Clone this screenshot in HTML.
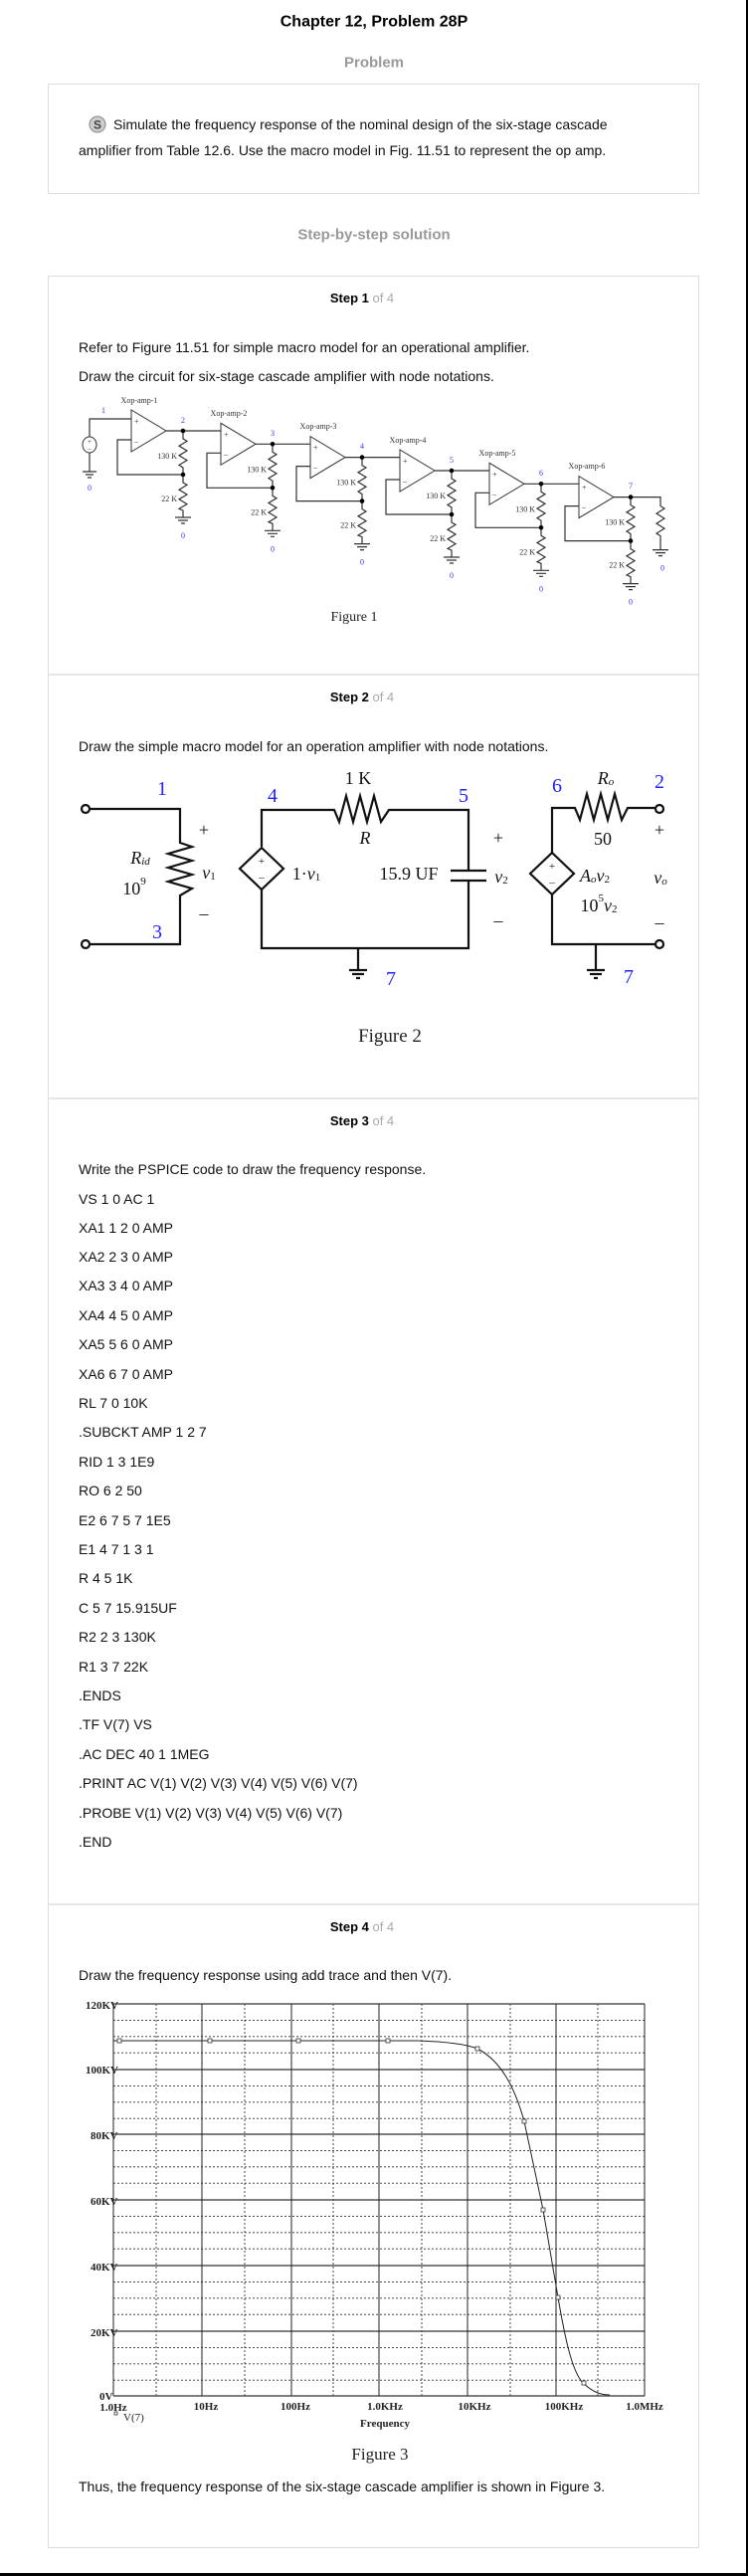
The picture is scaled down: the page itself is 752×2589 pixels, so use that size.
<!DOCTYPE html>
<html><head><meta charset="utf-8"><style>
html,body{margin:0;padding:0;background:#fff;}
body{width:752px;height:2589px;overflow:hidden;position:relative;}
svg{position:absolute;left:0;top:0;}
.s{font-family:"Liberation Sans",Arial,sans-serif;}
.r{font-family:"Liberation Serif","Times New Roman",serif;}
</style></head><body>
<svg width="752" height="2589" viewBox="0 0 752 2589" xmlns="http://www.w3.org/2000/svg">
<rect x="750" y="0" width="2" height="2589" fill="#000"/>
<rect x="0" y="2586" width="752" height="3" fill="#000"/>

<g class="s" dominant-baseline="central">
<text x="376" y="22" text-anchor="middle" font-size="16" font-weight="bold" fill="#000">Chapter 12, Problem 28P</text>
<text x="376" y="63" text-anchor="middle" font-size="15" font-weight="bold" fill="#999">Problem</text>
</g>
<rect x="48.5" y="84.5" width="654" height="110" fill="none" stroke="#ddd"/>
<circle cx="98" cy="125" r="8" fill="#ccc" stroke="#888"/>
<text x="98" y="129.5" text-anchor="middle" font-size="12" font-weight="bold" fill="#444" class="s">S</text>
<g class="s" font-size="14" fill="#111" dominant-baseline="central">
<text x="114" y="125">Simulate the frequency response of the nominal design of the six-stage cascade</text>
<text x="79" y="151">amplifier from Table 12.6. Use the macro model in Fig. 11.51 to represent the op amp.</text>
</g>
<text x="376" y="236" text-anchor="middle" font-size="15" font-weight="bold" fill="#999" class="s" dominant-baseline="central">Step-by-step solution</text>

<rect x="48.5" y="277.5" width="654" height="2283" fill="none" stroke="#ddd"/>
<g stroke="#ddd" stroke-width="1.5">
<line x1="49" y1="678" x2="702" y2="678"/>
<line x1="49" y1="1104" x2="702" y2="1104"/>
<line x1="49" y1="1914" x2="702" y2="1914"/>
</g>
<g class="s" font-size="13" dominant-baseline="central" text-anchor="middle">
<text x="364" y="299"><tspan font-weight="bold" fill="#000">Step 1</tspan><tspan fill="#aaa"> of 4</tspan></text>
<text x="364" y="700"><tspan font-weight="bold" fill="#000">Step 2</tspan><tspan fill="#aaa"> of 4</tspan></text>
<text x="364" y="1126"><tspan font-weight="bold" fill="#000">Step 3</tspan><tspan fill="#aaa"> of 4</tspan></text>
<text x="364" y="1936"><tspan font-weight="bold" fill="#000">Step 4</tspan><tspan fill="#aaa"> of 4</tspan></text>
</g>
<g class="s" font-size="14" fill="#111" dominant-baseline="central">
<text x="79" y="349">Refer to Figure 11.51 for simple macro model for an operational amplifier.</text>
<text x="79" y="378">Draw the circuit for six-stage cascade amplifier with node notations.</text>
<text x="79" y="750">Draw the simple macro model for an operation amplifier with node notations.</text>
<text x="79" y="1175">Write the PSPICE code to draw the frequency response.</text>
<text x="79" y="1205">VS 1 0 AC 1</text>
<text x="79" y="1234">XA1 1 2 0 AMP</text>
<text x="79" y="1263">XA2 2 3 0 AMP</text>
<text x="79" y="1292">XA3 3 4 0 AMP</text>
<text x="79" y="1322">XA4 4 5 0 AMP</text>
<text x="79" y="1351">XA5 5 6 0 AMP</text>
<text x="79" y="1381">XA6 6 7 0 AMP</text>
<text x="79" y="1410">RL 7 0 10K</text>
<text x="79" y="1439">.SUBCKT AMP 1 2 7</text>
<text x="79" y="1469">RID 1 3 1E9</text>
<text x="79" y="1498">RO 6 2 50</text>
<text x="79" y="1528">E2 6 7 5 7 1E5</text>
<text x="79" y="1557">E1 4 7 1 3 1</text>
<text x="79" y="1586">R 4 5 1K</text>
<text x="79" y="1616">C 5 7 15.915UF</text>
<text x="79" y="1645">R2 2 3 130K</text>
<text x="79" y="1675">R1 3 7 22K</text>
<text x="79" y="1704">.ENDS</text>
<text x="79" y="1733">.TF V(7) VS</text>
<text x="79" y="1763">.AC DEC 40 1 1MEG</text>
<text x="79" y="1792">.PRINT AC V(1) V(2) V(3) V(4) V(5) V(6) V(7)</text>
<text x="79" y="1822">.PROBE V(1) V(2) V(3) V(4) V(5) V(6) V(7)</text>
<text x="79" y="1851">.END</text>
<text x="79" y="1985">Draw the frequency response using add trace and then V(7).</text>
<text x="79" y="2499">Thus, the frequency response of the six-stage cascade amplifier is shown in Figure 3.</text>
</g>

<defs>
<g id="stg">
<path d="M0,0 L0,42 L35,21 Z" fill="#fff" stroke="#333" stroke-width="1"/>
<path d="M35,21 H90" stroke="#333" stroke-width="1.2" fill="none"/>
<path d="M52,21 V29 L56,31.4 L48,36.2 L56,41 L48,45.8 L56,50.6 L48,55.4 L52,58 V65 M52,65 H-14 V30 H0 M52,65 V73 L56,75.4 L48,80.2 L56,85 L48,89.8 L56,94.6 L48,99.4 L52,101 V108 M44,108 H60 M47,111 H57 M50,114 H54" stroke="#333" stroke-width="1.2" fill="none"/>
<circle cx="52" cy="21" r="2.3" fill="#000"/>
<circle cx="52" cy="65" r="2.3" fill="#000"/>
<text x="3" y="14" font-size="8" fill="#333" class="r">+</text>
<text x="3" y="34" font-size="8" fill="#333" class="r">–</text>
<text x="46" y="49" font-size="8" text-anchor="end" fill="#333" class="r">130 K</text>
<text x="46" y="92" font-size="8" text-anchor="end" fill="#333" class="r">22 K</text>
<text x="52" y="129" font-size="8" text-anchor="middle" fill="#33f" class="r">0</text>
</g>
</defs>
<g class="r">
<ellipse cx="90" cy="447" rx="7" ry="8" fill="#fff" stroke="#333"/>
<text x="90" y="446" font-size="7" text-anchor="middle" fill="#333">+</text>
<text x="90" y="453" font-size="7" text-anchor="middle" fill="#333">–</text>
<path d="M90,439 V421 H132 M90,455 V474 M83,474 H97 M86,477 H94 M88,480 H92" stroke="#333" stroke-width="1.2" fill="none"/>
<text x="90" y="493" font-size="8" text-anchor="middle" fill="#33f">0</text>
<text x="102" y="415" font-size="8" fill="#33f">1</text>

<use href="#stg" transform="translate(132,412)"/>
<use href="#stg" transform="translate(222,425.3)"/>
<use href="#stg" transform="translate(312,438.6)"/>
<use href="#stg" transform="translate(402,452)"/>
<use href="#stg" transform="translate(492,465.3)"/>
<g transform="translate(582,478.6)">
<path d="M0,0 L0,42 L35,21 Z" fill="#fff" stroke="#333" stroke-width="1"/>
<path d="M35,21 H82 V30 L86,32.5 L78,37.5 L86,42.5 L78,47.5 L86,52.5 L78,57.5 L82,60 V74 M74,74 H90 M77,77 H87 M80,80 H84" stroke="#333" stroke-width="1.2" fill="none"/>
<path d="M52,21 V29 L56,31.4 L48,36.2 L56,41 L48,45.8 L56,50.6 L48,55.4 L52,58 V65 M52,65 H-14 V30 H0 M52,65 V73 L56,75.4 L48,80.2 L56,85 L48,89.8 L56,94.6 L48,99.4 L52,101 V108 M44,108 H60 M47,111 H57 M50,114 H54" stroke="#333" stroke-width="1.2" fill="none"/>
<circle cx="52" cy="21" r="2.3" fill="#000"/>
<circle cx="52" cy="65" r="2.3" fill="#000"/>
<text x="3" y="14" font-size="8" fill="#333">+</text>
<text x="3" y="34" font-size="8" fill="#333">–</text>
<text x="46" y="49" font-size="8" text-anchor="end" fill="#333">130 K</text>
<text x="46" y="92" font-size="8" text-anchor="end" fill="#333">22 K</text>
<text x="52" y="129" font-size="8" text-anchor="middle" fill="#33f">0</text>
<text x="84" y="95" font-size="8" text-anchor="middle" fill="#33f">0</text>
</g>
<g font-size="8" fill="#333" text-anchor="middle">
<text x="140" y="405">Xop-amp-1</text>
<text x="230" y="418">Xop-amp-2</text>
<text x="320" y="431">Xop-amp-3</text>
<text x="410" y="445">Xop-amp-4</text>
<text x="500" y="458">Xop-amp-5</text>
<text x="590" y="471">Xop-amp-6</text>
</g>
<g font-size="8" fill="#33f" text-anchor="middle">
<text x="184" y="425">2</text>
<text x="274" y="438">3</text>
<text x="364" y="451">4</text>
<text x="454" y="465">5</text>
<text x="544" y="478">6</text>
<text x="634" y="491">7</text>
</g>
<text x="356" y="624" font-size="14" text-anchor="middle" fill="#222">Figure 1</text>
</g>

<g class="r" stroke-linejoin="miter">
<g stroke="#111" stroke-width="2.2" fill="none">
<path d="M89,813 H181 V847 L193,851 L169,858 L193,865 L169,872 L193,879 L169,886 L193,893 L181,900 V949 H89"/>
<circle cx="86" cy="813" r="4" fill="#fff"/>
<circle cx="86" cy="949" r="4" fill="#fff"/>
<path d="M263,851 V814 H336 L341,826 L348,800 L355,826 L362,800 L369,826 L376,800 L383,826 L391,814 H471 V875 M453,875 H489 M453,885 H489 M471,885 V953 H263 V894"/>
<path d="M263,852 L285,873 L263,894 L241,873 Z" fill="#fff"/>
<path d="M360,953 V975 M351,975 H369 M354,979 H366 M358,983 H362"/>
<path d="M555,857 V812 H578 L583,824 L590,798 L597,824 L604,798 L611,824 L618,798 L625,824 L631,812 H659 M555,899 V949 H659"/>
<path d="M555,857 L577,878 L555,899 L533,878 Z" fill="#fff"/>
<path d="M599,949 V975 M590,975 H608 M593,979 H605 M597,983 H601"/>
<circle cx="663" cy="813" r="4" fill="#fff"/>
<circle cx="663" cy="949" r="4" fill="#fff"/>
</g>
<g font-size="11" fill="#111" text-anchor="middle">
<text x="263" y="869">+</text><text x="263" y="885">–</text>
<text x="555" y="874">+</text><text x="555" y="890">–</text>
</g>
<g font-size="20" fill="#22f" text-anchor="middle" dominant-baseline="central">
<text x="163" y="793">1</text>
<text x="158" y="937">3</text>
<text x="274" y="800">4</text>
<text x="466" y="800">5</text>
<text x="393" y="984">7</text>
<text x="560" y="790">6</text>
<text x="663" y="786">2</text>
<text x="632" y="982">7</text>
</g>
<g font-size="18" fill="#111" text-anchor="middle" dominant-baseline="central">
<text x="360" y="782">1 K</text>
<text x="367" y="842" font-style="italic">R</text>
<text x="205" y="834">+</text>
<text x="205" y="918">–</text>
<text x="210" y="877" font-style="italic">v<tspan font-size="11" dy="4" font-style="normal">1</tspan></text>
<text x="141" y="862" font-style="italic">R<tspan font-size="11" dy="4">id</tspan></text>
<text x="135" y="893">10<tspan font-size="11" dy="-7">9</tspan></text>
<text x="308" y="878">1·<tspan font-style="italic">v</tspan><tspan font-size="11" dy="4">1</tspan></text>
<text x="411" y="878">15.9 UF</text>
<text x="501" y="842">+</text>
<text x="504" y="881" font-style="italic">v<tspan font-size="11" dy="4" font-style="normal">2</tspan></text>
<text x="501" y="925">–</text>
<text x="609" y="782" font-style="italic">R<tspan font-size="11" dy="4">o</tspan></text>
<text x="606" y="843">50</text>
<text x="663" y="834">+</text>
<text x="664" y="882" font-style="italic">v<tspan font-size="11" dy="4">o</tspan></text>
<text x="663" y="927">–</text>
<text x="598" y="880" font-style="italic">A<tspan font-size="11" dy="4">o</tspan><tspan dy="-4">v</tspan><tspan font-size="11" dy="4" font-style="normal">2</tspan></text>
<text x="602" y="910">10<tspan font-size="11" dy="-7">5</tspan><tspan dy="7" font-style="italic">v</tspan><tspan font-size="11" dy="4">2</tspan></text>
</g>
<text x="392" y="1047" font-size="19" text-anchor="middle" fill="#222">Figure 2</text>
</g>

<g>
<g stroke="#333" stroke-width="0.9" stroke-dasharray="2,2" fill="none">
<path d="M114,2030.4H648M114,2046.8H648M114,2063.2H648 M114,2096.4H648M114,2112.8H648M114,2129.2H648 M114,2161.4H648M114,2177.8H648M114,2194.2H648 M114,2227.4H648M114,2243.8H648M114,2260.2H648 M114,2293.4H648M114,2309.8H648M114,2326.2H648 M114,2359.4H648M114,2375.8H648M114,2392.2H648"/>
<path d="M157,2014V2408M246,2014V2408M335,2014V2408M424,2014V2408M513,2014V2408M601,2014V2408"/>
</g>
<g stroke="#555" stroke-width="1.4" fill="none">
<path d="M114,2014H648M114,2080H648M114,2145H648M114,2211H648M114,2277H648M114,2343H648M114,2408H648"/>
</g>
<g stroke="#222" stroke-width="1" fill="none">
<path d="M114,2014V2408M203,2014V2408M293,2014V2408M381,2014V2408M470,2014V2408M559,2014V2408M648,2014V2408"/>
<path d="M114,2051 L420,2051 C450,2052 470,2055 480,2059 C505,2072 518,2100 527,2132 L546,2221 L561,2309 C568,2350 575,2383 586,2395 C595,2403 602,2407 613,2407"/>
</g>
<g fill="#fff" stroke="#333" stroke-width="0.8">
<rect x="118" y="2049" width="4" height="4"/><rect x="209" y="2049" width="4" height="4"/>
<rect x="298" y="2049" width="4" height="4"/><rect x="388" y="2049" width="4" height="4"/>
<rect x="478" y="2057" width="4" height="4"/><rect x="525" y="2130" width="4" height="4"/>
<rect x="544" y="2219" width="4" height="4"/><rect x="559" y="2307" width="4" height="4"/>
<rect x="585" y="2393" width="4" height="4"/><rect x="115" y="2424" width="3" height="3"/>
</g>
<g class="r" font-size="11" font-weight="bold" fill="#222" dominant-baseline="central">
<text x="86" y="2016">120KV</text>
<text x="86" y="2081">100KV</text>
<text x="91" y="2147">80KV</text>
<text x="91" y="2213">60KV</text>
<text x="91" y="2279">40KV</text>
<text x="91" y="2345">20KV</text>
<text x="100" y="2409">0V</text>
</g>
<g class="r" font-size="11" font-weight="bold" fill="#222" text-anchor="middle" dominant-baseline="central">
<text x="114" y="2420">1.0Hz</text>
<text x="207" y="2419">10Hz</text>
<text x="297" y="2419">100Hz</text>
<text x="387" y="2419">1.0KHz</text>
<text x="477" y="2419">10KHz</text>
<text x="567" y="2419">100KHz</text>
<text x="648" y="2419">1.0MHz</text>
<text x="387" y="2436">Frequency</text>
</g>
<text x="124" y="2433" class="r" font-size="11" fill="#222">V(7)</text>
<text x="382" y="2472" class="r" font-size="17" text-anchor="middle" fill="#222">Figure 3</text>
</g>
</svg>
</body></html>
